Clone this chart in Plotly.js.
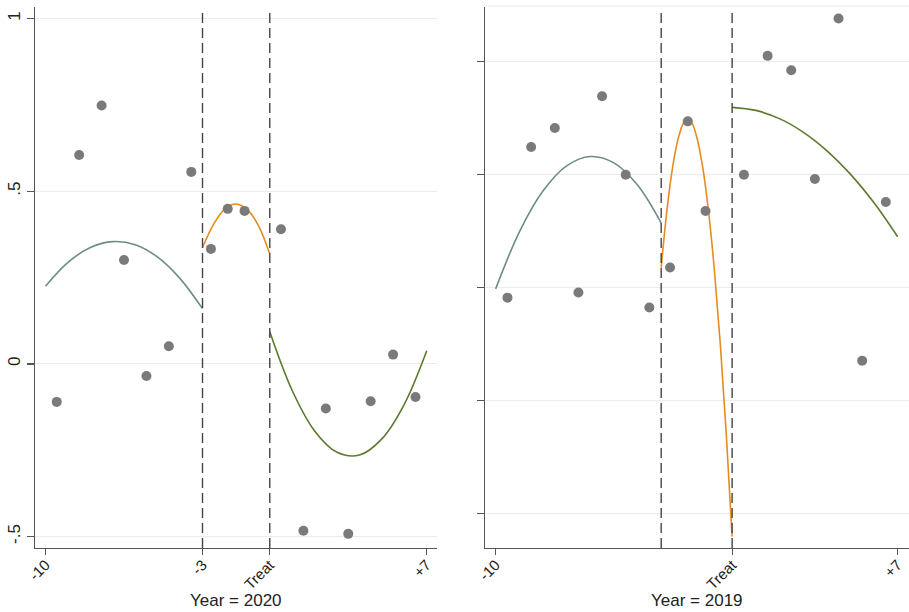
<!DOCTYPE html>
<html>
<head>
<meta charset="utf-8">
<script src="https://cdn.plot.ly/plotly-3.0.1.min.js"></script>
<style>html,body{margin:0;padding:0;background:#fff;}#chart{width:909px;height:612px;}</style>
</head>
<body>
<div id="chart"></div>
<script>
// ---- Bin positions (years relative to treatment) ----
const binXPre  = [-9.5, -8.5, -7.5, -6.5, -5.5, -4.5, -3.5];
const binXMid  = [-2.625, -1.875, -1.125];
const binXPost = [0.5, 1.5, 2.5, 3.5, 4.5, 5.5, 6.5];

// ---- Year = 2020 (left panel) binned means ----
const y2020Pre  = [-0.110, 0.605, 0.748, 0.301, -0.035, 0.051, 0.556];
const y2020Mid  = [0.333, 0.449, 0.443];
const y2020Post = [0.390, -0.483, -0.129, -0.492, -0.108, 0.027, -0.096];

// ---- Year = 2019 (right panel) binned means ----
const y2019Pre  = [-0.089, 1.246, 1.414, -0.044, 1.695, 1.000, -0.177];
const y2019Mid  = [0.178, 1.473, 0.678];
const y2019Post = [1.000, 2.053, 1.926, 0.962, 2.384, -0.648, 0.758];

// ---- Fitted curves ----
const fitXPre  = [-10, -9, -8, -7, -6, -5, -4, -3];
const fitXMid  = [-3, -2.5, -2, -1.5, -1, -0.5, 0];
const fitXMidFine = [-3, -2.75, -2.5, -2.25, -2, -1.75, -1.5, -1.25, -1, -0.75, -0.5, -0.25, 0];
const fitXPost = [0, 1, 2, 3, 4, 5, 6, 7];

const fit2020Pre  = [0.225, 0.294, 0.337, 0.354, 0.345, 0.309, 0.247, 0.160];
const fit2020Mid  = [0.337, 0.405, 0.449, 0.463, 0.447, 0.400, 0.318];
const fit2020Post = [0.093, -0.077, -0.194, -0.256, -0.264, -0.217, -0.117, 0.038];

const fit2019Pre  = [-0.011, 0.492, 0.855, 1.078, 1.161, 1.105, 0.908, 0.571];
const fit2019Mid  = [0.177, 0.697, 1.087, 1.345, 1.473, 1.470, 1.337, 1.073, 0.679, 0.154, -0.502, -1.289, -2.206];
const fit2019Post = [1.597, 1.570, 1.497, 1.378, 1.214, 1.005, 0.751, 0.451];

// ---- Tick labels ----
const xTickVals2020 = [-10, -3, 0, 7];
const xTickText2020 = ['-10', '-3', 'Treat', '+7'];
const xTickVals2019 = [-10, 0, 7];
const xTickText2019 = ['-10', 'Treat', '+7'];
const yTickVals2020 = [-0.5, 0, 0.5, 1];
const yTickText2020 = ['-.5', '0', '.5', '1'];
const yTickVals2019 = [-2, -1, 0, 1, 2];
const cutoffs = [-3, 0];
const panelTitles = ['Year = 2020', 'Year = 2019'];

const dotColor = '#7a7a7a';
const cPre = '#6e8c88', cMid = '#e58d1c', cPost = '#5c7a2f';

function dots(x, y, xa, ya) {
  return {x: x, y: y, xaxis: xa, yaxis: ya, type: 'scatter', mode: 'markers',
    marker: {color: dotColor, size: 10}, hoverinfo: 'skip', showlegend: false};
}
function fit(x, y, color, xa, ya) {
  return {x: x, y: y, xaxis: xa, yaxis: ya, type: 'scatter', mode: 'lines',
    line: {color: color, width: 1.6, shape: 'spline', smoothing: 1}, hoverinfo: 'skip', showlegend: false};
}

const traces = [
  fit(fitXPre, fit2020Pre, cPre, 'x', 'y'),
  fit(fitXMid, fit2020Mid, cMid, 'x', 'y'),
  fit(fitXPost, fit2020Post, cPost, 'x', 'y'),
  dots(binXPre, y2020Pre, 'x', 'y'),
  dots(binXMid, y2020Mid, 'x', 'y'),
  dots(binXPost, y2020Post, 'x', 'y'),
  fit(fitXPre, fit2019Pre, cPre, 'x2', 'y2'),
  fit(fitXMidFine, fit2019Mid, cMid, 'x2', 'y2'),
  fit(fitXPost, fit2019Post, cPost, 'x2', 'y2'),
  dots(binXPre, y2019Pre, 'x2', 'y2'),
  dots(binXMid, y2019Mid, 'x2', 'y2'),
  dots(binXPost, y2019Post, 'x2', 'y2')
];

const fam = 'Liberation Sans, Arial, sans-serif';
const font = {family: fam, size: 15, color: '#222'};
const axCommon = {
  showline: true, linecolor: '#555', linewidth: 1.4, mirror: false,
  ticks: 'outside', tickcolor: '#555', tickwidth: 1.2, ticklen: 6,
  zeroline: false, fixedrange: true, tickfont: font
};

const shapes = [];
[['x', 'y'], ['x2', 'y2']].forEach(function (p) {
  cutoffs.forEach(function (c) {
    shapes.push({type: 'line', xref: p[0], yref: p[1] + ' domain', x0: c, x1: c, y0: 0, y1: 0.992,
      line: {color: '#444', width: 1.4, dash: '10px,5px'}, layer: 'above'});
  });
});
shapes.push({type: 'line', xref: 'x2 domain', yref: 'y2 domain', x0: 0, x1: 1, y0: 1.002, y1: 1.002,
  line: {color: '#e4edf3', width: 1.2}, layer: 'below'});

const layout = {
  width: 909, height: 612,
  margin: {l: 35, r: 0, t: 7, b: 64},
  paper_bgcolor: '#fff', plot_bgcolor: '#fff',
  font: font,
  showlegend: false,
  xaxis: Object.assign({}, axCommon, {domain: [0, 0.46], range: [-10.47, 7.46],
    tickmode: 'array', tickvals: xTickVals2020, ticktext: xTickText2020, tickangle: -45,
    ticklabelstandoff: -5, showgrid: false, anchor: 'y'}),
  yaxis: Object.assign({}, axCommon, {range: [-0.533, 1.0334], tickmode: 'array',
    tickvals: yTickVals2020, ticktext: yTickText2020, tickangle: -90, ticklen: 7,
    tickfont: {family: fam, size: 17, color: '#222'},
    showgrid: true, gridcolor: '#ececec', gridwidth: 1, anchor: 'x'}),
  xaxis2: Object.assign({}, axCommon, {domain: [0.5149, 1], range: [-10.45, 7.48],
    tickmode: 'array', tickvals: xTickVals2019, ticktext: xTickText2019, tickangle: -45,
    ticklabelstandoff: -5, showgrid: false, anchor: 'y2'}),
  yaxis2: Object.assign({}, axCommon, {range: [-2.307, 2.486], tickmode: 'array',
    tickvals: yTickVals2019, showticklabels: false, ticklen: 7,
    showgrid: true, gridcolor: '#ececec', gridwidth: 1, anchor: 'x2'}),
  shapes: shapes,
  annotations: [
    {text: panelTitles[0], xref: 'x domain', yref: 'paper', x: 0.5, y: -0.0968, xanchor: 'center', yanchor: 'middle',
      showarrow: false, font: {family: fam, size: 17, color: '#222'}},
    {text: panelTitles[1], xref: 'x2 domain', yref: 'paper', x: 0.5, y: -0.0968, xanchor: 'center', yanchor: 'middle',
      showarrow: false, font: {family: fam, size: 17, color: '#222'}}
  ]
};

Plotly.newPlot('chart', traces, layout, {displayModeBar: false, staticPlot: true});
</script>
</body>
</html>
